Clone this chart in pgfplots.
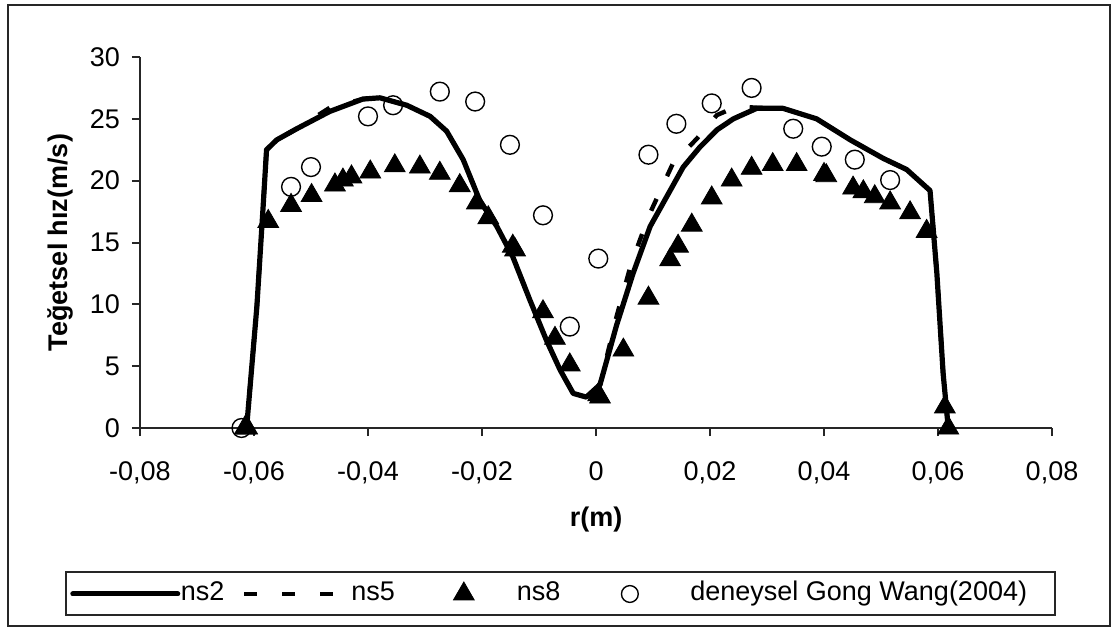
\documentclass[border=0pt]{standalone}
\usepackage{fontspec}
\setmainfont{Liberation Sans}
\usepackage{pgfplots}
\pgfplotsset{compat=1.18}
\newcommand{\chartfont}{\fontsize{13.5}{16}\selectfont}
\begin{document}
\begin{tikzpicture}
\useasboundingbox (-70pt,-100pt) rectangle (487pt,214pt);
\begin{axis}[
  at={(0pt,0pt)}, anchor=south west,
  scale only axis, width=456pt, height=185.5pt,
  xmin=-0.08, xmax=0.08, ymin=0, ymax=30,
  axis x line*=bottom, axis y line*=left,
  axis line style={line width=1pt, black!85, -},
  scaled x ticks=false,
  xtick={-0.08,-0.06,-0.04,-0.02,0,0.02,0.04,0.06,0.08},
  xticklabels={{-0,08},{-0,06},{-0,04},{-0,02},{0},{0,02},{0,04},{0,06},{0,08}},
  ytick={0,5,10,15,20,25,30},
  tick align=outside, major tick length=4pt,
  tick style={line width=1pt, black!85},
  ticklabel style={font=\chartfont},
  /pgf/number format/assume math mode=true,
  xticklabel style={yshift=-9.5pt},
  yticklabel style={xshift=-2.5pt},
  clip=false,
  xlabel={r(m)}, ylabel={Teğetsel hız(m/s)},
  every axis x label/.style={at={(rel axis cs:0.5,-0.248)}, anchor=center, font=\bfseries\chartfont},
  every axis y label/.style={at={(rel axis cs:-0.0877,0.5)}, rotate=90, anchor=center, font=\bfseries\chartfont},
  legend columns=4,
  legend style={at={(rel axis cs:0.461,-0.4474)}, anchor=center, draw=black!85, line width=1pt,
    inner xsep=0pt, inner ysep=4.5pt, font=\chartfont,
    /tikz/column sep=0pt,
    nodes={inner xsep=0pt, inner ysep=0pt, text height=9.5pt, text depth=3pt}},
]
\addplot[black, line width=2.6pt, line join=round,
  legend image code/.code={\path[draw=none] (-3.5pt,0pt) -- (54pt,0pt);
    \draw[black, line width=2.5pt, line cap=round] (0pt,0pt) -- (52.5pt,0pt);}]
coordinates {
(-0.0613,0) (-0.0595,9.8) (-0.0584,17.9) (-0.0578,22.5) (-0.0560,23.3) (-0.0525,24.2)
(-0.0467,25.6) (-0.0409,26.6) (-0.0379,26.7) (-0.0332,26.1) (-0.0291,25.2) (-0.0262,24.0)
(-0.0233,21.7) (-0.0204,18.4) (-0.0174,16.3) (-0.0146,13.85) (-0.0116,10.35) (-0.0087,7.1)
(-0.0063,4.7) (-0.0040,2.8) (-0.0017,2.5) (0.0007,3.5) (0.0036,8.3) (0.0065,12.5)
(0.0095,16.3) (0.0124,18.7) (0.0153,21.1) (0.0182,22.7) (0.0212,24.1) (0.0241,25.0)
(0.0282,25.85) (0.0328,25.85) (0.0387,25.0) (0.0446,23.3) (0.0504,21.8) (0.0545,20.9)
(0.0586,19.2) (0.0598,12.5) (0.0609,4.4) (0.0618,0)
};
\addlegendentry{ns2}
\addplot[black, line width=2.2pt, dash pattern=on 6.5pt off 12.5pt,
  legend image code/.code={\path[draw=none] (-10pt,0pt) -- (53.5pt,0pt);
    \draw[black, line width=2.2pt, dash pattern=on 6.5pt off 12.5pt] (0pt,0pt) -- (44.5pt,0pt);}]
coordinates {
(-0.0613,0) (-0.0595,9.8) (-0.0584,17.9) (-0.0578,22.5) (-0.0560,23.3) (-0.0525,24.2)
(-0.0467,25.9) (-0.0409,26.6) (-0.0379,26.7) (-0.0332,26.1) (-0.0291,25.2) (-0.0262,24.0)
(-0.0233,21.7) (-0.0204,18.4) (-0.0174,16.3) (-0.0146,13.85) (-0.0116,10.35) (-0.0087,7.1)
(-0.0063,4.7) (-0.0040,2.8) (-0.0017,2.5) (0.0007,3.5) (0.0036,9.0) (0.0060,13.0)
(0.0077,15.2) (0.0095,17.4) (0.0135,21.4) (0.0177,23.4) (0.0212,25.3) (0.0247,26.0)
(0.0282,25.9) (0.0328,25.85) (0.0387,25.0) (0.0446,23.3) (0.0504,21.8) (0.0545,20.9)
(0.0586,19.2) (0.0598,12.5) (0.0609,4.4) (0.0618,0)
};
\addlegendentry{ns5}
\addplot[only marks, mark=triangle*, mark size=6pt, mark options={fill=black, draw=black, line width=0.4pt},
  legend image code/.code={\path[draw=none] (-34.5pt,0pt) -- (26.5pt,0pt);
    \draw[mark=triangle*, mark size=6pt, mark options={fill=black, draw=black, line width=0.4pt}] plot coordinates {(0pt,0pt)};}]
coordinates {
(-0.0616,0) (-0.0612,0) (-0.0575,16.7) (-0.0535,18.0) (-0.0499,18.8) (-0.0458,19.65)
(-0.0444,20.05) (-0.0429,20.3) (-0.0396,20.7) (-0.0353,21.2) (-0.0309,21.1) (-0.0274,20.6)
(-0.0239,19.6) (-0.0209,18.2) (-0.0189,17.0) (-0.0146,14.7) (-0.0142,14.4) (-0.0093,9.4)
(-0.0072,7.25) (-0.0046,5.1) (0.0004,2.7) (0.0007,2.5) (0.0048,6.3) (0.0092,10.5)
(0.0130,13.6) (0.0144,14.7) (0.0168,16.4) (0.0203,18.6) (0.0238,20.05) (0.0273,21.0)
(0.0310,21.3) (0.0352,21.3) (0.0400,20.5) (0.0404,20.4) (0.0451,19.4) (0.0469,19.1)
(0.0489,18.7) (0.0516,18.2) (0.0551,17.4) (0.0580,15.9) (0.0612,1.7) (0.0618,0)
};
\addlegendentry{ns8}
\addplot[only marks, mark=o, mark size=4.7pt, mark options={draw=black, line width=0.7pt},
  legend image code/.code={\path[draw=none] (-34.75pt,0pt) -- (30.25pt,0pt);
    \draw[mark=o, mark size=4.2pt, mark options={draw=black, line width=0.7pt}] plot coordinates {(0pt,0pt)};}]
coordinates {
(-0.0622,0) (-0.0535,19.5) (-0.0500,21.1) (-0.0400,25.2) (-0.0356,26.1) (-0.0274,27.2)
(-0.0212,26.4) (-0.0151,22.9) (-0.0093,17.2) (-0.0046,8.2) (0.0004,13.7) (0.0092,22.1)
(0.0141,24.6) (0.0203,26.25) (0.0273,27.5) (0.0346,24.2) (0.0396,22.75) (0.0454,21.7)
(0.0516,20.05)
};
\addlegendentry{deneysel Gong Wang(2004)\hspace*{14pt}}
\end{axis}
\draw[black!85, line width=1pt] (-66pt,211.5pt) rectangle (485pt,-99pt);
\end{tikzpicture}
\end{document}
